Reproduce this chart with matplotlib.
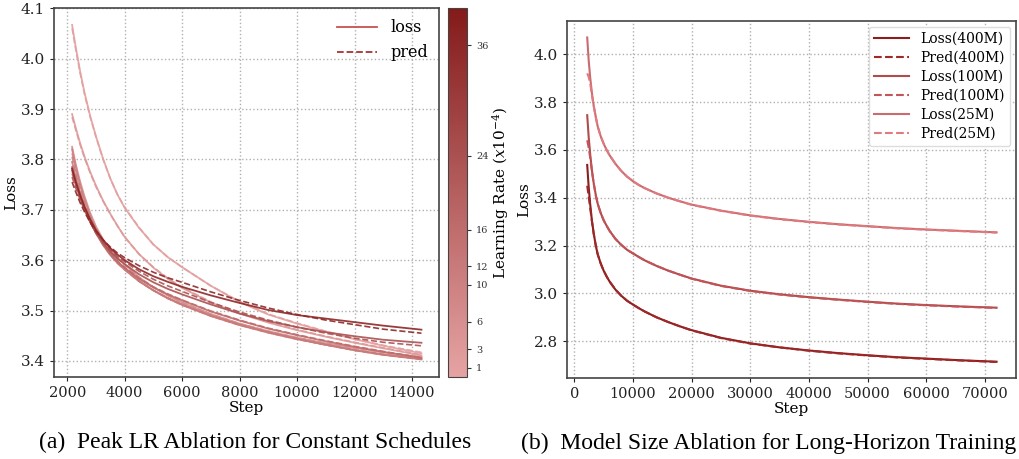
import numpy as np
import matplotlib
matplotlib.use("Agg")
import matplotlib.pyplot as plt
from matplotlib.colors import LinearSegmentedColormap, Normalize
from matplotlib.lines import Line2D
from matplotlib.cm import ScalarMappable

plt.rcParams['font.family'] = ['DejaVu Serif']
plt.rcParams['mathtext.fontset'] = 'dejavuserif'

# ---- panel (a): peak LR ablation, constant schedules ----
steps_a = [2170, 2300, 2450, 2600, 2800, 3000, 3250, 3500, 3750, 4000, 4500,
           5000, 5500, 6000, 7000, 8000, 9000, 10000, 11000, 12000, 13000, 14330]
lr_values = [1, 3, 6, 10, 12, 16, 24, 36]
cbar_ticks = [1, 3, 6, 10, 12, 16, 24, 36]

loss_lr1 = [4.067, 4.022, 3.975, 3.933, 3.886, 3.846, 3.801, 3.762, 3.730, 3.704, 3.664,
            3.631, 3.606, 3.586, 3.549, 3.517, 3.492, 3.474, 3.458, 3.443, 3.430, 3.415]
loss_lr3 = [3.890, 3.862, 3.832, 3.806, 3.775, 3.748, 3.718, 3.692, 3.668, 3.646, 3.612,
            3.585, 3.563, 3.545, 3.516, 3.494, 3.476, 3.461, 3.448, 3.436, 3.425, 3.411]
loss_lr6 = [3.825, 3.790, 3.756, 3.727, 3.694, 3.667, 3.641, 3.621, 3.605, 3.592, 3.566,
            3.546, 3.530, 3.516, 3.493, 3.474, 3.459, 3.446, 3.435, 3.426, 3.417, 3.408]
loss_lr10 = [3.820, 3.784, 3.750, 3.721, 3.688, 3.661, 3.635, 3.614, 3.597, 3.583, 3.559,
             3.540, 3.524, 3.511, 3.489, 3.471, 3.456, 3.443, 3.432, 3.422, 3.413, 3.404]
loss_lr12 = [3.795, 3.765, 3.735, 3.709, 3.679, 3.655, 3.630, 3.610, 3.594, 3.581, 3.558,
             3.540, 3.525, 3.512, 3.490, 3.472, 3.457, 3.444, 3.432, 3.421, 3.412, 3.403]
loss_lr16 = [3.785, 3.757, 3.729, 3.705, 3.677, 3.654, 3.631, 3.612, 3.597, 3.585, 3.563,
             3.546, 3.532, 3.520, 3.498, 3.480, 3.464, 3.451, 3.439, 3.428, 3.418, 3.406]
loss_lr24 = [3.778, 3.752, 3.725, 3.702, 3.676, 3.655, 3.634, 3.617, 3.603, 3.592, 3.572,
             3.556, 3.543, 3.532, 3.512, 3.494, 3.479, 3.467, 3.457, 3.449, 3.442, 3.436]
loss_lr36 = [3.782, 3.755, 3.729, 3.706, 3.681, 3.660, 3.640, 3.624, 3.611, 3.600, 3.582,
             3.568, 3.557, 3.547, 3.530, 3.515, 3.501, 3.491, 3.484, 3.477, 3.470, 3.462]

pred_lr1 = [4.060, 4.017, 3.971, 3.930, 3.884, 3.845, 3.800, 3.762, 3.730, 3.705, 3.665,
            3.631, 3.606, 3.586, 3.549, 3.518, 3.493, 3.475, 3.459, 3.444, 3.431, 3.417]
pred_lr3 = [3.884, 3.858, 3.829, 3.803, 3.773, 3.746, 3.717, 3.691, 3.668, 3.646, 3.612,
            3.586, 3.564, 3.546, 3.517, 3.495, 3.477, 3.462, 3.449, 3.437, 3.426, 3.412]
pred_lr6 = [3.812, 3.780, 3.749, 3.721, 3.690, 3.664, 3.638, 3.618, 3.603, 3.591, 3.566,
            3.546, 3.530, 3.516, 3.493, 3.474, 3.459, 3.446, 3.435, 3.426, 3.417, 3.407]
pred_lr10 = [3.805, 3.773, 3.742, 3.715, 3.684, 3.658, 3.633, 3.613, 3.596, 3.583, 3.559,
             3.540, 3.524, 3.511, 3.489, 3.471, 3.456, 3.443, 3.432, 3.422, 3.413, 3.404]
pred_lr12 = [3.783, 3.756, 3.729, 3.705, 3.677, 3.654, 3.630, 3.610, 3.594, 3.581, 3.558,
             3.540, 3.525, 3.512, 3.490, 3.472, 3.457, 3.444, 3.432, 3.421, 3.412, 3.403]
pred_lr16 = [3.772, 3.748, 3.723, 3.701, 3.675, 3.653, 3.631, 3.612, 3.597, 3.586, 3.564,
             3.547, 3.533, 3.521, 3.499, 3.481, 3.465, 3.452, 3.440, 3.429, 3.419, 3.406]
pred_lr24 = [3.765, 3.743, 3.720, 3.700, 3.676, 3.656, 3.636, 3.620, 3.607, 3.597, 3.578,
             3.562, 3.549, 3.538, 3.516, 3.497, 3.481, 3.467, 3.455, 3.445, 3.437, 3.430]
pred_lr36 = [3.755, 3.735, 3.714, 3.696, 3.675, 3.657, 3.640, 3.626, 3.614, 3.605, 3.589,
             3.576, 3.565, 3.556, 3.537, 3.520, 3.505, 3.492, 3.481, 3.472, 3.463, 3.455]

loss_a = [loss_lr1, loss_lr3, loss_lr6, loss_lr10, loss_lr12, loss_lr16, loss_lr24, loss_lr36]
pred_a = [pred_lr1, pred_lr3, pred_lr6, pred_lr10, pred_lr12, pred_lr16, pred_lr24, pred_lr36]

# ---- panel (b): model size, long horizon ----
steps_b = [2200, 2450, 2700, 3000, 3300, 3700, 4000, 4500, 5000, 5500, 6000, 7000, 8000,
           9000, 10000, 11000, 12000, 14000, 16000, 18000, 20000, 25000, 30000, 35000,
           40000, 45000, 50000, 55000, 60000, 66000, 72000]
model_names = ['400M', '100M', '25M']

loss_400m = [3.537, 3.445, 3.375, 3.305, 3.252, 3.195, 3.163, 3.125, 3.095, 3.071, 3.050,
             3.016, 2.990, 2.969, 2.953, 2.938, 2.924, 2.900, 2.880, 2.862, 2.846, 2.814,
             2.791, 2.774, 2.761, 2.750, 2.741, 2.733, 2.727, 2.720, 2.714]
pred_400m = [3.450, 3.405, 3.358, 3.302, 3.250, 3.194, 3.162, 3.125, 3.095, 3.071, 3.050,
             3.016, 2.990, 2.969, 2.953, 2.938, 2.924, 2.900, 2.880, 2.862, 2.845, 2.813,
             2.790, 2.774, 2.760, 2.749, 2.740, 2.732, 2.726, 2.719, 2.713]
loss_100m = [3.745, 3.654, 3.584, 3.515, 3.462, 3.406, 3.374, 3.336, 3.306, 3.283, 3.262,
             3.228, 3.203, 3.182, 3.167, 3.152, 3.138, 3.115, 3.095, 3.078, 3.062, 3.032,
             3.011, 2.996, 2.984, 2.974, 2.965, 2.957, 2.951, 2.945, 2.940]
pred_100m = [3.640, 3.610, 3.568, 3.512, 3.460, 3.405, 3.374, 3.336, 3.306, 3.283, 3.262,
             3.228, 3.203, 3.182, 3.167, 3.152, 3.138, 3.115, 3.095, 3.078, 3.061, 3.031,
             3.010, 2.995, 2.983, 2.973, 2.964, 2.956, 2.950, 2.944, 2.939]
loss_25m = [4.070, 3.975, 3.905, 3.838, 3.786, 3.733, 3.697, 3.657, 3.626, 3.600, 3.578,
            3.542, 3.512, 3.488, 3.469, 3.453, 3.440, 3.418, 3.400, 3.385, 3.371, 3.346,
            3.326, 3.311, 3.299, 3.289, 3.281, 3.273, 3.267, 3.261, 3.255]
pred_25m = [3.920, 3.905, 3.880, 3.830, 3.784, 3.732, 3.697, 3.657, 3.626, 3.600, 3.578,
            3.542, 3.512, 3.488, 3.469, 3.453, 3.440, 3.418, 3.400, 3.385, 3.370, 3.345,
            3.325, 3.310, 3.298, 3.288, 3.280, 3.272, 3.266, 3.260, 3.254]

loss_b = [loss_400m, loss_100m, loss_25m]
pred_b = [pred_400m, pred_100m, pred_25m]
loss_colors_b = ['#8b1e1e', '#b04c4e', '#c96c70']
pred_colors_b = ['#a02828', '#c45458', '#e07a7e']

cmap = LinearSegmentedColormap.from_list('lr', ['#e6a3a3', '#841a1a'])
norm = Normalize(vmin=0, vmax=40)

fig = plt.figure(figsize=(10.19, 4.59), dpi=100)
ax1 = fig.add_axes([0.053, 0.1786, 0.3778, 0.8033])
cax = fig.add_axes([0.4396, 0.1786, 0.0186, 0.8033])
ax2 = fig.add_axes([0.5564, 0.1765, 0.4406, 0.7778])

for lr, la, pa in zip(lr_values, loss_a, pred_a):
    c = cmap(norm(lr))
    ax1.plot(steps_a, la, color=c, lw=1.3, alpha=0.9)
    ax1.plot(steps_a, pa, color=c, lw=1.2, ls='--', alpha=0.9)

ax1.set_xlim(1540, 14940)
ax1.set_ylim(3.368, 4.1)
ax1.set_xticks([2000, 4000, 6000, 8000, 10000, 12000, 14000])
ax1.set_yticks([3.4, 3.5, 3.6, 3.7, 3.8, 3.9, 4.0, 4.1])
ax1.set_xlabel('Step', fontsize=11, labelpad=1)
ax1.set_ylabel('Loss', fontsize=11, labelpad=2)

handles_a = [Line2D([], [], color='#c85252', lw=1.3),
             Line2D([], [], color='#a83232', lw=1.3, ls='--')]
ax1.legend(handles_a, ['loss', 'pred'], loc='upper right', frameon=False,
           fontsize=11.5, handlelength=2.5, borderaxespad=0.3)

sm = ScalarMappable(norm=norm, cmap=cmap)
cb = fig.colorbar(sm, cax=cax, ticks=cbar_ticks)
cb.ax.tick_params(labelsize=7, length=3, colors='#333333')
cb.set_label(r'Learning Rate ($x10^{-4}$)', fontsize=11, labelpad=1)
cb.outline.set_edgecolor('#444444')

for la, pa, lc, pc, name in zip(loss_b, pred_b, loss_colors_b, pred_colors_b, model_names):
    ax2.plot(steps_b, la, color=lc, lw=1.5, label=f'Loss({name})')
    ax2.plot(steps_b, pa, color=pc, lw=1.5, ls='--', label=f'Pred({name})')

ax2.set_xlim(-1250, 75300)
ax2.set_ylim(2.646, 4.139)
ax2.set_xticks([0, 10000, 20000, 30000, 40000, 50000, 60000, 70000])
ax2.set_yticks([2.8, 3.0, 3.2, 3.4, 3.6, 3.8, 4.0])
ax2.set_xlabel('Step', fontsize=11, labelpad=1)
ax2.set_ylabel('Loss', fontsize=11, labelpad=2)
leg = ax2.legend(loc='upper right', fontsize=10, handlelength=2.5, labelspacing=0.35,
                 fancybox=True, framealpha=1.0, borderaxespad=0.4)
leg.get_frame().set_edgecolor('#dddddd')

for ax in (ax1, ax2):
    ax.grid(True, ls=':', color='#b0b0b0', lw=1.0)
    ax.tick_params(axis='x', labelsize=10.5, length=3, colors='#222222')
    ax.tick_params(axis='y', labelsize=11, length=3, colors='#222222')
    for s in ax.spines.values():
        s.set_edgecolor('#444444')
        s.set_linewidth(1.2)

fig.text(0.250, 0.035, '(a)  Peak LR Ablation for Constant Schedules',
         ha='center', va='center', fontsize=17, family='Liberation Serif')
fig.text(0.754, 0.035, '(b)  Model Size Ablation for Long-Horizon Training',
         ha='center', va='center', fontsize=17, family='Liberation Serif')

fig.savefig('out.png', dpi=100)
